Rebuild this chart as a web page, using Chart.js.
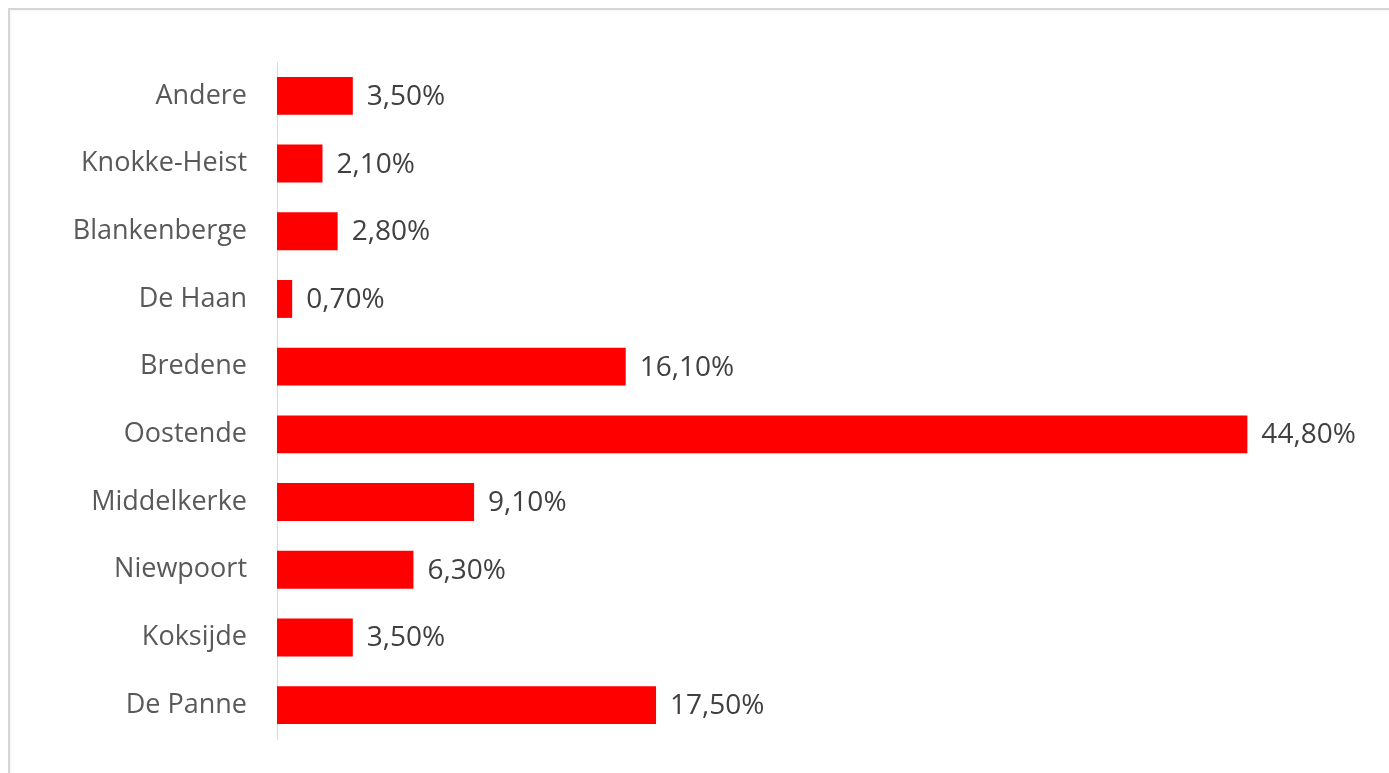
<!DOCTYPE html>
<html>
<head>
<meta charset="utf-8">
<script src="https://cdn.jsdelivr.net/npm/chart.js@4"></script>
<style>
html,body{margin:0;padding:0;background:#fff;overflow:hidden;}
#wrap{position:absolute;left:0;top:0;width:1389px;height:773px;}
#frame{position:absolute;left:8px;top:8px;width:1400px;height:800px;border-top:2px solid #d6d6d6;border-left:2px solid #d6d6d6;box-shadow:inset 1px 1px 2px rgba(0,0,0,0.04);}
canvas{position:absolute;left:0;top:0;}
</style>
</head>
<body>
<div id="wrap">
<div id="frame"></div>
<canvas id="c" width="1389" height="773"></canvas>
</div>
<script>
const categories = ["Andere","Knokke-Heist","Blankenberge","De Haan","Bredene","Oostende","Middelkerke","Niewpoort","Koksijde","De Panne"];
const values = [3.5, 2.1, 2.8, 0.7, 16.1, 44.8, 9.1, 6.3, 3.5, 17.5];

const fontFamily = '"Open Sans", "Noto Sans", sans-serif';

const valueLabels = {
  id: 'valueLabels',
  afterDatasetsDraw(chart) {
    const ctx = chart.ctx;
    const meta = chart.getDatasetMeta(0);
    ctx.save();
    ctx.font = '28px ' + fontFamily;
    ctx.fillStyle = '#404040';
    ctx.textAlign = 'left';
    ctx.textBaseline = 'middle';
    meta.data.forEach((bar, i) => {
      const txt = values[i].toFixed(2).replace('.', ',') + '%';
      ctx.fillText(txt, bar.x + 14, bar.y + 1);
    });
    ctx.restore();
  }
};

new Chart(document.getElementById('c'), {
  type: 'bar',
  data: {
    labels: categories,
    datasets: [{
      data: values,
      backgroundColor: '#ff0000',
      borderWidth: 0,
      categoryPercentage: 1,
      barPercentage: 0.56
    }]
  },
  options: {
    indexAxis: 'y',
    responsive: false,
    animation: false,
    layout: { padding: { left: 10, top: 62, bottom: 34, right: 29 } },
    plugins: { legend: { display: false }, tooltip: { enabled: false } },
    scales: {
      x: { display: false, min: 0, max: 50 },
      y: {
        afterFit: (s) => { s.width = 267; s.paddingTop = 0; s.paddingBottom = 0; },
        grid: { display: false, drawTicks: false },
        border: { display: true, color: '#d9d9d9', width: 1 },
        ticks: { padding: 30, color: '#595959', font: { family: fontFamily, size: 27 } }
      }
    }
  },
  plugins: [valueLabels]
});
</script>
</body>
</html>
